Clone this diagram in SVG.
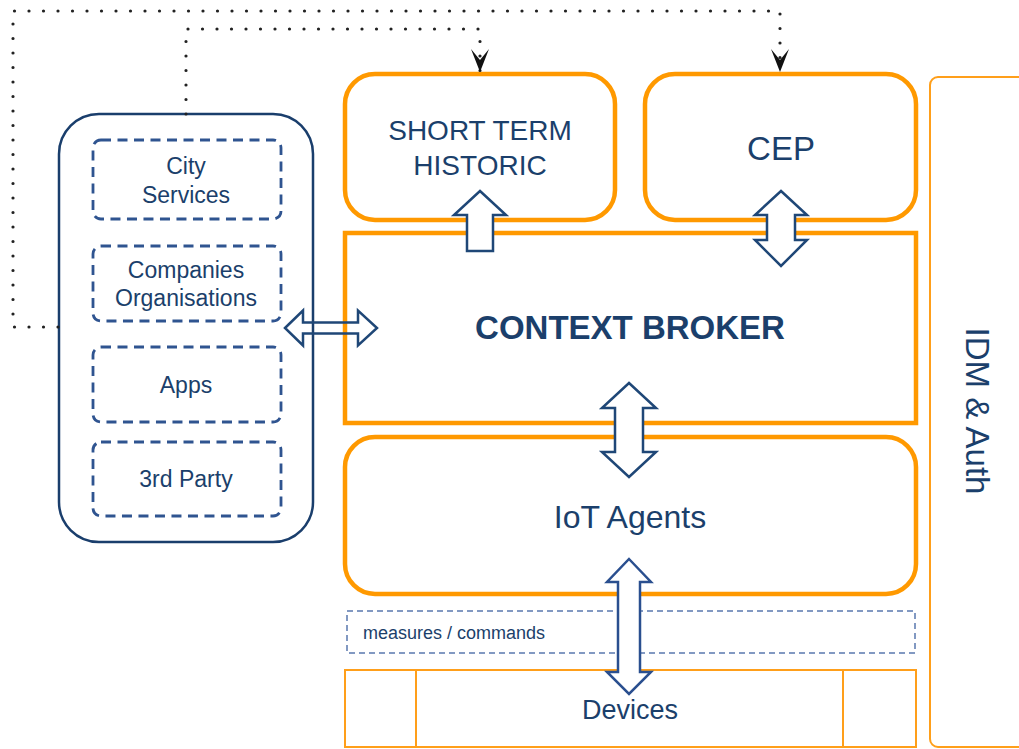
<svg xmlns="http://www.w3.org/2000/svg" width="1019" height="749" viewBox="0 0 1019 749">
<style>
.orange{fill:none;stroke:#ff9900;stroke-width:4.5}
.thin{fill:none;stroke:#ff9f1a;stroke-width:2}
.outer{fill:none;stroke:#1a3e6c;stroke-width:2.5}
.dash{fill:none;stroke:#2f5490;stroke-width:2.8;stroke-dasharray:10 6.5}
.mdash{fill:none;stroke:#5a78ae;stroke-width:1.5;stroke-dasharray:6 4}
.arrow{fill:#ffffff;stroke:#1f4777;stroke-width:2.5;stroke-linejoin:miter}
.dot{fill:none;stroke:#222;stroke-width:3.2;stroke-linecap:round;stroke-dasharray:0 14.5}
text{font-family:"Liberation Sans",Arial,sans-serif;fill:#1b3f6b;text-anchor:middle}
</style>
<defs>
<marker id="ah" markerUnits="userSpaceOnUse" viewBox="0 0 23 20" refX="23" refY="10" markerWidth="23" markerHeight="20" orient="auto">
<path d="M0,1 L23,10 L0,19 L11,10 Z" fill="#111"/>
</marker>
</defs>

<g id="idm">
<rect class="thin" x="930" y="77" width="100" height="670" rx="8"/>
<text transform="translate(966,411) rotate(90)" font-size="33">IDM &amp; Auth</text>
</g>

<g id="sth">
<rect class="orange" x="345" y="74" width="270" height="146" rx="30"/>
<text x="480" y="140" font-size="28">SHORT TERM</text>
<text x="480" y="175" font-size="28">HISTORIC</text>
</g>

<g id="cep">
<rect class="orange" x="645" y="74" width="271" height="146" rx="30"/>
<text x="781" y="160" font-size="33">CEP</text>
</g>

<g id="broker">
<rect class="orange" x="345" y="233" width="571" height="190"/>
<text x="630" y="339" font-size="33" font-weight="bold" fill="#173c67">CONTEXT BROKER</text>
</g>

<g id="iot">
<rect class="orange" x="345" y="437" width="571" height="157" rx="30"/>
<text x="630" y="528" font-size="32">IoT Agents</text>
</g>

<g id="measures">
<rect class="mdash" x="347" y="611" width="568" height="42"/>
<text x="363" y="639" font-size="18" style="text-anchor:start" fill="#2f4f80">measures / commands</text>
</g>

<g id="devices">
<rect class="thin" x="345" y="670" width="571" height="77"/>
<line class="thin" x1="416" y1="670" x2="416" y2="747"/>
<line class="thin" x1="843" y1="670" x2="843" y2="747"/>
<text x="630" y="719" font-size="27">Devices</text>
</g>

<g id="clients">
<rect class="outer" x="59" y="114" width="254" height="428" rx="40"/>
<g id="city">
<rect class="dash" x="93" y="140" width="188" height="79" rx="8"/>
<text x="186" y="174" font-size="23">City</text>
<text x="186" y="203" font-size="23">Services</text>
</g>
<g id="companies">
<rect class="dash" x="93" y="246" width="188" height="75" rx="8"/>
<text x="186" y="278" font-size="23">Companies</text>
<text x="186" y="306" font-size="23">Organisations</text>
</g>
<g id="apps">
<rect class="dash" x="93" y="347" width="188" height="75" rx="8"/>
<text x="186" y="393" font-size="23">Apps</text>
</g>
<g id="thirdparty">
<rect class="dash" x="93" y="442" width="188" height="74" rx="8"/>
<text x="186" y="487" font-size="23">3rd Party</text>
</g>
</g>

<g id="connectors">
<path class="dot" d="M58,327 H13 V11 H780 V72" marker-end="url(#ah)"/>
<path class="dot" d="M186,114 V29 H480 V72" marker-end="url(#ah)"/>
<polygon class="arrow" points="480,191 506,215 493,215 493,251 467,251 467,215 454,215"/>
<polygon class="arrow" points="781,191 807,215 795,215 795,240 807,240 781,266 755,240 767,240 767,215 755,215"/>
<polygon class="arrow" points="629,383 656,408 643,408 643,452 656,452 629,477 602,452 615,452 615,408 602,408"/>
<polygon class="arrow" points="629,559 651,582 640,582 640,672 651,672 629,694 607,672 618,672 618,582 607,582" style="stroke:#2a4f8f"/>
<polygon class="arrow" points="285,328 303,310.5 303,322.5 358,322.5 358,310.5 377,328 358,345.5 358,333.5 303,333.5 303,345.5" style="fill:none"/>
</g>
</svg>
